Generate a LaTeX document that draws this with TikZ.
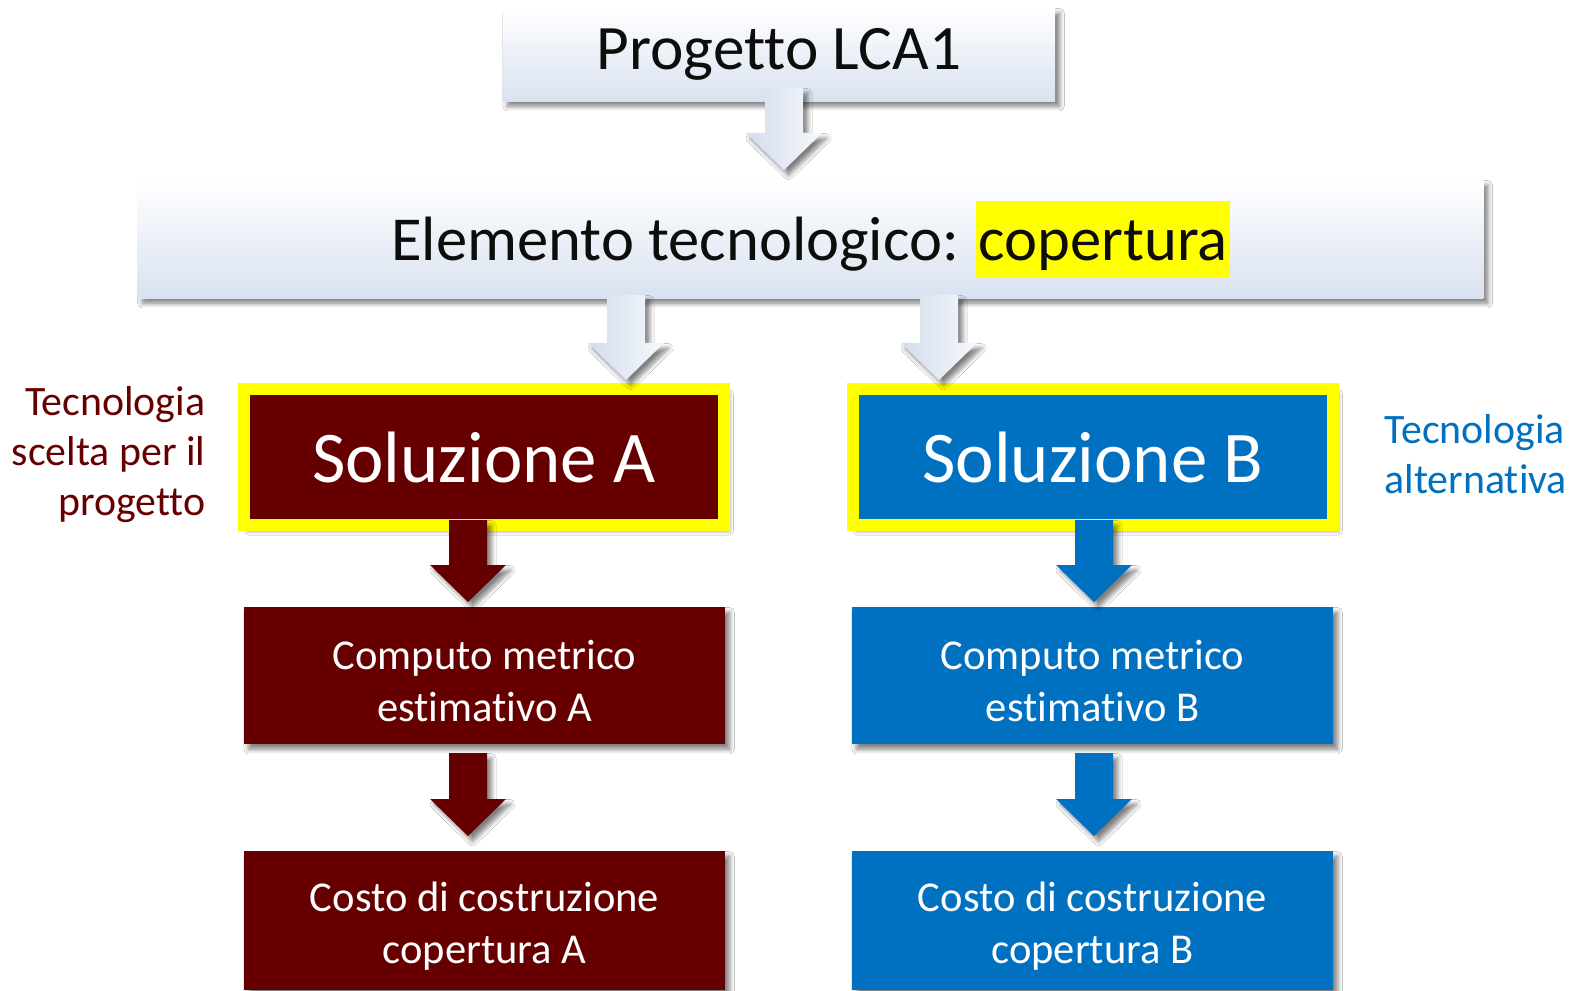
\documentclass[tikz,border=0pt]{standalone}
\usepackage{fontspec}
\setmainfont{Carlito}[Ligatures={NoCommon}]
\usetikzlibrary{shadows.blur,calc}
\definecolor{dred}{HTML}{660000}
\definecolor{mblue}{HTML}{0070C0}
\definecolor{hl}{HTML}{FFFF00}
\definecolor{pale}{HTML}{D9E2F0}
\definecolor{paleA}{HTML}{D3DDEC}
\definecolor{paleB}{HTML}{F6F8FC}
\definecolor{ink}{HTML}{0D0D0D}
\tikzset{
  shd/.style={blur shadow={shadow xshift=1.3pt, shadow yshift=-1.5pt, shadow blur radius=1.3pt, shadow blur steps=6, shadow opacity=50}},
  headbox/.style={rectangle, top color=white, bottom color=pale, shd, text=ink, inner sep=0pt},
  solbox/.style={rectangle, draw=hl, line width=0.12cm, shd, text=white, inner sep=0pt, font=\fontsize{20.7}{25}\selectfont},
  stepbox/.style={rectangle, shd, text=white, inner sep=0pt, align=center, font=\fontsize{12.1}{14.8}\selectfont},
  lightarrow/.style={left color=paleA, right color=paleB, shd},
  redarrow/.style={fill=dred, shd},
  bluearrow/.style={fill=mblue, shd},
  sidetext/.style={inner sep=0pt, font=\fontsize{11.9}{14.2}\selectfont}
}
\newcommand\barrow[3]{%
  \path[#2] ($(#1)+(-19,0)$) -- ++(38,0) -- ++(0,#3-37) -- ++(19,0) -- ++(-38,37) -- ++(-38,-37) -- ++(19,0) -- cycle;}
\newcommand\tstrut{\rule{0pt}{11.6pt}}
\begin{document}
\begin{tikzpicture}[x=0.01cm, y=-0.01cm]
\useasboundingbox (0,0) rectangle (1575,991);
\fill[white] (0,0) rectangle (1575,991);
\clip (0,0) rectangle (1575,991);

% header boxes
\node[headbox, minimum width=5.52cm, minimum height=0.93cm, font=\fontsize{18}{21}\selectfont] (top) at (779,54.5) {\raisebox{-1.2pt}{Progetto LCA1}};
\node[headbox, minimum width=13.45cm, minimum height=1.18cm, font=\fontsize{17.8}{21}\selectfont] (elem) at (810.5,239)
  {Elemento tecnologico:\hspace{0.28em}{\fboxsep=0pt\colorbox{hl}{\hspace{0.6pt}\rule[-0.27em]{0pt}{1.22em}copertura\hspace{0.6pt}}}};

% solution boxes
\node[solbox, fill=dred, minimum width=4.8cm, minimum height=1.365cm] (solA) at (484,457) {\raisebox{-1pt}{Soluzione A}};
\node[solbox, fill=mblue, minimum width=4.8cm, minimum height=1.365cm] (solB) at (1093,457) {\raisebox{-1pt}{Soluzione B}};

% step boxes
\node[stepbox, fill=dred, minimum width=4.81cm, minimum height=1.37cm] (compA) at (484.5,675.5) {\tstrut Computo metrico\\estimativo A};
\node[stepbox, fill=dred, minimum width=4.81cm, minimum height=1.39cm] (costA) at (484.5,920.5) {\tstrut Costo di costruzione\\copertura A};
\node[stepbox, fill=mblue, minimum width=4.81cm, minimum height=1.37cm] (compB) at (1092.5,675.5) {\tstrut Computo metrico\\estimativo B};
\node[stepbox, fill=mblue, minimum width=4.81cm, minimum height=1.39cm] (costB) at (1092.5,920.5) {\tstrut Costo di costruzione\\copertura B};

% side texts
\node[sidetext, text=dred, anchor=east, align=right] (sideA) at (206,455) {Tecnologia\\scelta per il\\progetto};
\node[sidetext, text=mblue, anchor=west, align=left] (sideB) at (1384,454) {Tecnologia\\alternativa};

% arrow start points
\coordinate (a0) at (784,88);
\coordinate (a1) at (626,295);
\coordinate (a2) at (939,295);
\coordinate (a3) at (468,520);
\coordinate (a4) at (1094,520);
\coordinate (a5) at (468,753);
\coordinate (a6) at (1094,753);

\barrow{a0}{lightarrow}{82}
\barrow{a1}{lightarrow}{85}
\barrow{a2}{lightarrow}{85}
\barrow{a3}{redarrow}{82}
\barrow{a4}{bluearrow}{82}
\barrow{a5}{redarrow}{83}
\barrow{a6}{bluearrow}{83}
\end{tikzpicture}
\end{document}
